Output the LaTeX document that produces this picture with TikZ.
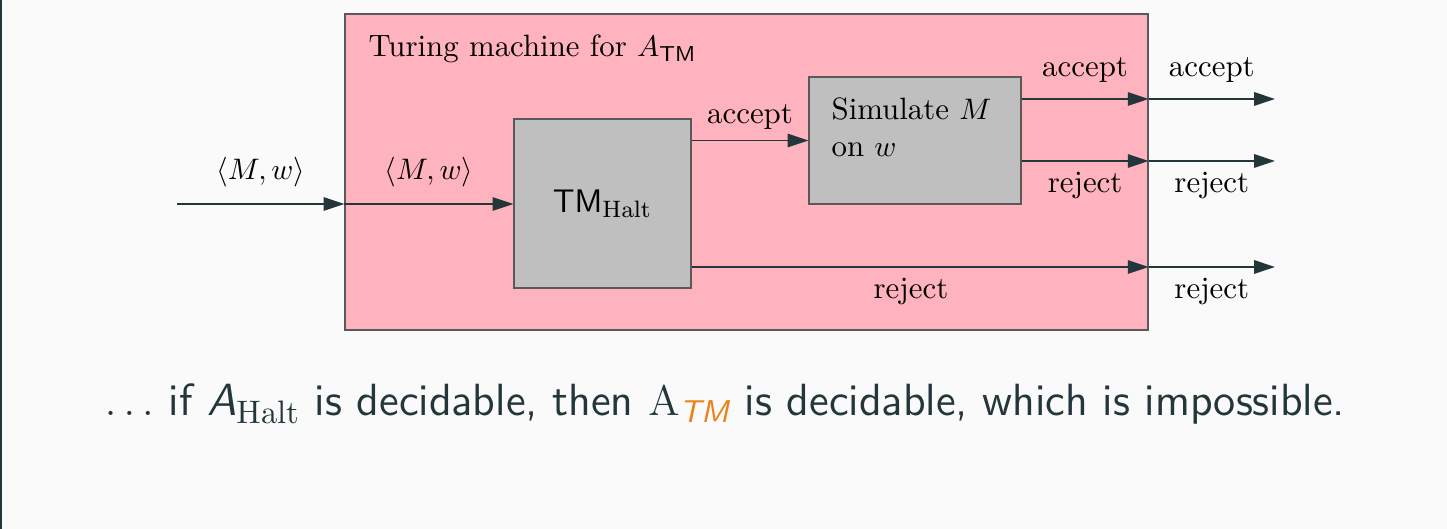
\documentclass[tikz,border=0pt]{standalone}
\usepackage{amsmath}
\usetikzlibrary{positioning,calc,arrows.meta}
\definecolor{bgcol}{HTML}{FAFAFA}
\definecolor{darkteal}{HTML}{23373B}
\definecolor{alertorange}{HTML}{EB811B}
\definecolor{boxpink}{RGB}{255,179,190}
\definecolor{boxgray}{RGB}{191,191,191}
\tikzset{
  outerbox/.style = {draw=black!65, fill=boxpink, inner sep=0pt},
  machine/.style = {draw=black!65, fill=boxgray, inner sep=0pt},
  arr/.style = {darkteal, line width=0.6pt, -{Triangle[length=7pt,width=4.5pt]}},
  lbl/.style = {text=black},
}
\begin{document}
\begin{tikzpicture}[x=0.01184cm, y=-0.01184cm, font=\fontsize{10.4}{12.5}\selectfont]
	\fill[bgcol] (0,0) rectangle (1447,529);
	\useasboundingbox (0,0) rectangle (1447,529);
	\draw[darkteal, line width=0.7pt] (1,0) -- (1,529);
	% the machine for A_TM and its two parts
	\node[outerbox, minimum width=9.508cm, minimum height=3.741cm] (outer) at (746.5,172) {};
	\node[anchor=base west, inner sep=0pt] (title) at (368,57) {Turing machine for $A_{\textsf{TM}}$};
	\node[machine, minimum width=2.096cm, minimum height=2.001cm, font=\sffamily\fontsize{11}{13}\selectfont] (tm) at (602.5,203.5) {TM$_{\mathrm{Halt}}$};
	\node[machine, minimum width=2.510cm, minimum height=1.504cm] (sim) at (915,140.5) {};
	\node[anchor=north west, inner sep=0pt, align=left] (simtext) at (831,97) {Simulate $M$\\on $w$};
	% free ends
	\coordinate (in) at (177,204);
	\coordinate (accout) at (1275,99);
	\coordinate (rejout) at (1275,161);
	\coordinate (haltout) at (1275,267);
	% input
	\draw[arr] (in) -- (in -| outer.west) node [lbl, midway, above=2pt] {$\langle M, w\rangle$};
	\draw[arr] (in -| outer.west) -- (in -| tm.west) node [lbl, midway, above=2pt] {$\langle M, w\rangle$};
	% TM_Halt to simulation
	\draw[arr] (sim.west -| tm.east) -- (sim.west) node [lbl, midway, above] {accept};
	\draw[arr] (haltout -| tm.east) -- (haltout -| outer.east) node [lbl, pos=0.48, below] {reject};
	\draw[arr] (haltout -| outer.east) -- (haltout) node [lbl, midway, below] {reject};
	% simulation outputs
	\draw[arr] (accout -| sim.east) -- (accout -| outer.east) node [lbl, midway, above=2pt] {accept};
	\draw[arr] (accout -| outer.east) -- (accout) node [lbl, midway, above=2pt] {accept};
	\draw[arr] (rejout -| sim.east) -- (rejout -| outer.east) node [lbl, midway, below] {reject};
	\draw[arr] (rejout -| outer.east) -- (rejout) node [lbl, midway, below] {reject};
	% conclusion
	\node[font=\sffamily\fontsize{15.2}{18}\selectfont, text=darkteal] (concl) at (725,404) {$\ldots$ if \textit{A}$_{\mathrm{Halt}}$ is decidable, then $\mathrm{A}_{\textcolor{alertorange}{\textit{TM}}}$ is decidable, which is impossible.};
\end{tikzpicture}
\end{document}
